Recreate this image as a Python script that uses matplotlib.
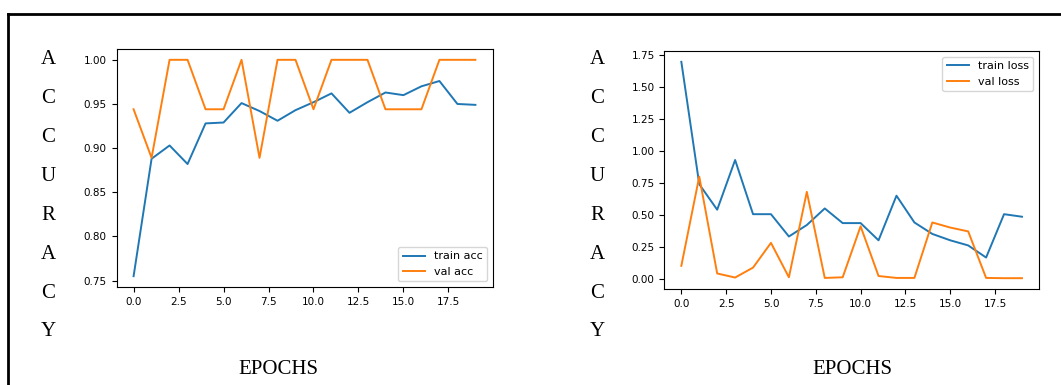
import numpy as np
import matplotlib.pyplot as plt
from matplotlib.lines import Line2D

epochs = list(range(20))

train_acc = [0.755, 0.888, 0.903, 0.882, 0.928, 0.929, 0.951, 0.942, 0.931, 0.943,
             0.952, 0.962, 0.940, 0.952, 0.963, 0.960, 0.970, 0.976, 0.950, 0.949]
val_acc = [0.944, 0.889, 1.0, 1.0, 0.944, 0.944, 1.0, 0.889, 1.0, 1.0,
           0.944, 1.0, 1.0, 1.0, 0.944, 0.944, 0.944, 1.0, 1.0, 1.0]

train_loss = [1.70, 0.74, 0.54, 0.93, 0.505, 0.505, 0.33, 0.42, 0.55, 0.435,
              0.435, 0.30, 0.65, 0.44, 0.35, 0.30, 0.26, 0.165, 0.505, 0.485]
val_loss = [0.10, 0.80, 0.04, 0.008, 0.086, 0.28, 0.01, 0.68, 0.005, 0.01,
            0.41, 0.02, 0.005, 0.005, 0.44, 0.40, 0.37, 0.005, 0.003, 0.003]

ylabel_letters = list("ACCURACY")
xlabel = "EPOCHS"

W, H = 1061, 385
fig = plt.figure(figsize=(W / 100, H / 100), dpi=100)

# outer frame (top and left edges visible)
fig.add_artist(Line2D([8 / W, 1.0], [1 - 14 / H, 1 - 14 / H], color='black', lw=2))
fig.add_artist(Line2D([8 / W, 8 / W], [0.0, 1 - 14 / H], color='black', lw=2))

ax1 = fig.add_axes([116.5 / W, (H - 287) / H, 376 / W, 238 / H])
ax1.plot(epochs, train_acc, label='train acc', lw=1.4)
ax1.plot(epochs, val_acc, label='val acc', lw=1.4)
ax1.set_yticks([0.75, 0.80, 0.85, 0.90, 0.95, 1.00])
ax1.legend(loc='lower right', fontsize=8)

ax2 = fig.add_axes([664.3 / W, (H - 289) / H, 374.7 / W, 238 / H])
ax2.plot(epochs, train_loss, label='train loss', lw=1.4)
ax2.plot(epochs, val_loss, label='val loss', lw=1.4)
ax2.set_yticks([0.0, 0.25, 0.5, 0.75, 1.0, 1.25, 1.5, 1.75])
ax2.legend(loc='upper right', fontsize=8)

for ax in (ax1, ax2):
    ax.set_xticks([0, 2.5, 5, 7.5, 10, 12.5, 15, 17.5])
    ax.tick_params(labelsize=7.5)

for xc in (48, 597):
    for i, ch in enumerate(ylabel_letters):
        fig.text(xc / W, 1 - (60 + i * 38.85) / H, ch, ha='center', va='center',
                 family='Liberation Serif', fontsize=15)

for xc in (278, 852):
    fig.text(xc / W, 1 - 370 / H, xlabel, ha='center', va='center',
             family='Liberation Serif', fontsize=15)

fig.savefig('out.png', dpi=100)
